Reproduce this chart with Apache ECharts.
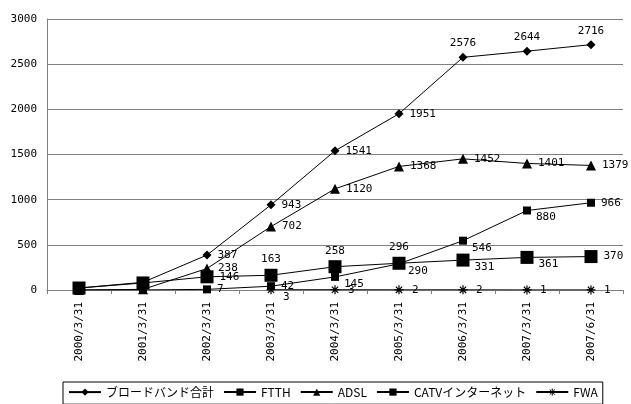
<!DOCTYPE html>
<html>
<head>
<meta charset="utf-8">
<script src="https://cdn.jsdelivr.net/npm/echarts@6/dist/echarts.min.js"></script>
<style>
  html, body { margin: 0; padding: 0; background: #fff; }
  #chart { width: 631px; height: 404px; }
</style>
</head>
<body>
<div id="chart"></div>
<script>
// Broadband subscribers (10k) by date
const categories = ['2000/3/31', '2001/3/31', '2002/3/31', '2003/3/31', '2004/3/31',
                    '2005/3/31', '2006/3/31', '2007/3/31', '2007/6/31'];
const totalValues = [22, 85, 387, 943, 1541, 1951, 2576, 2644, 2716];
const ftthValues  = [0, 1, 7, 42, 145, 290, 546, 880, 966];
const adslValues  = [0, 7, 238, 702, 1120, 1368, 1452, 1401, 1379];
const catvValues  = [22, 78, 146, 163, 258, 296, 331, 361, 370];
const fwaValues   = [null, null, null, 3, 3, 2, 2, 1, 1];
const yTicks = [0, 500, 1000, 1500, 2000, 2500, 3000];

// label placement per point: '' = hidden, r = right, t = top, br = below right
const totalPos = ['', '', 'r', 'r', 'r', 'r', 't', 't', 't'];
const ftthPos  = ['', '', 'r', 'r', 'br', 'br', 'br', 'br', 'r'];
const adslPos  = ['', '', 'r', 'r', 'r', 'r', 'r', 'r', 'r'];
const catvPos  = ['', '', 'r', 't', 't', 't', 'br', 'br', 'r'];
const fwaPos   = ['', '', '', 'br', 'r', 'r', 'r', 'r', 'r'];

const numFont = 'DejaVu Sans Mono';

function labelFor(code) {
  if (!code) return { show: false };
  const base = { show: true, color: '#000', fontFamily: numFont, fontSize: 11 };
  if (code === 't') return Object.assign(base, { position: 'top', distance: 4 });
  if (code === 'br') return Object.assign(base, { position: 'right', distance: 5, offset: [0, 7] });
  return Object.assign(base, { position: 'right', distance: 6 });
}

function buildData(values, pos) {
  return values.map((v, i) => ({ value: v, label: labelFor(pos[i]) }));
}

const asterisk = 'path://M5,0 L5,10 M0,5 L10,5 M1.5,1.5 L8.5,8.5 M1.5,8.5 L8.5,1.5';

function series(name, values, pos, symbol, size, extra) {
  return Object.assign({
    name: name,
    type: 'line',
    data: buildData(values, pos),
    symbol: symbol,
    symbolSize: size,
    showAllSymbol: true,
    connectNulls: false,
    lineStyle: { color: '#000', width: 1 },
    itemStyle: { color: '#000', borderColor: '#000', borderWidth: 0 },
    emphasis: { disabled: true },
    animation: false
  }, extra || {});
}

const chart = echarts.init(document.getElementById('chart'), null, { renderer: 'canvas' });
chart.setOption({
  backgroundColor: '#fff',
  animation: false,
  grid: { left: 47, right: 8, top: 19, bottom: 114 },
  xAxis: {
    type: 'category',
    data: categories,
    boundaryGap: true,
    axisLine: { lineStyle: { color: '#808080', width: 1 } },
    axisTick: { show: true, length: 4, inside: false, lineStyle: { color: '#808080' } },
    axisLabel: { rotate: 90, margin: 12, color: '#000', fontFamily: numFont, fontSize: 11 }
  },
  yAxis: {
    type: 'value',
    min: yTicks[0],
    max: yTicks[yTicks.length - 1],
    interval: yTicks[1] - yTicks[0],
    axisLine: { show: true, lineStyle: { color: '#808080', width: 1 } },
    axisTick: { show: false },
    splitLine: { show: true, lineStyle: { color: '#808080', width: 1 } },
    axisLabel: { margin: 10, color: '#000', fontFamily: numFont, fontSize: 11,
                 formatter: v => String(v) }
  },
  legend: {
    left: 63,
    top: 382,
    orient: 'horizontal',
    borderColor: '#000',
    borderWidth: 1,
    borderRadius: 0,
    padding: [4, 5, 6, 5],
    itemGap: 9,
    itemWidth: 32,
    itemHeight: 9,
    textStyle: { color: '#000', fontSize: 12, fontFamily: 'Noto Sans CJK JP' },
    data: ['ブロードバンド合計', 'FTTH', 'ADSL', 'CATVインターネット',
           { name: 'FWA', itemStyle: { color: 'none', borderColor: '#000', borderWidth: 1 } }]
  },
  series: [
    series('ブロードバンド合計', totalValues, totalPos, 'diamond', 9),
    series('FTTH', ftthValues, ftthPos, 'rect', 8),
    series('ADSL', adslValues, adslPos, 'triangle', 10),
    series('CATVインターネット', catvValues, catvPos, 'rect', 13),
    series('FWA', fwaValues, fwaPos, asterisk, 9, {
      itemStyle: { color: 'none', borderColor: '#000', borderWidth: 1.2 }
    })
  ]
});
</script>
</body>
</html>
